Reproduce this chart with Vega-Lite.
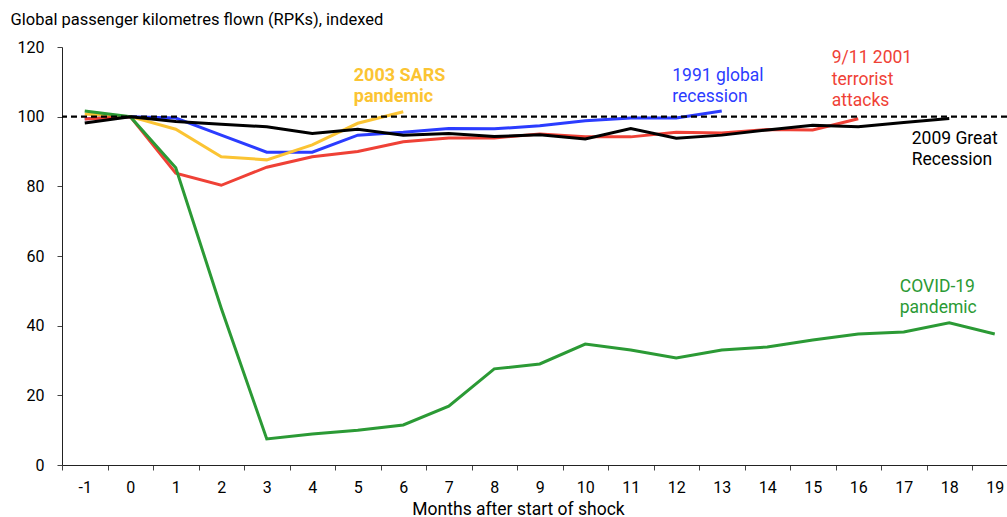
{
  "$schema": "https://vega.github.io/schema/vega-lite/v6.json",
  "width": 945,
  "height": 418,
  "autosize": {"type": "none"},
  "padding": {"left": 62, "top": 47, "right": 0, "bottom": 52},
  "background": "white",
  "config": {
    "view": {"stroke": null},
    "font": "Roboto",
    "axis": {"labelFont": "Roboto", "titleFont": "Roboto", "labelFontSize": 16, "titleFontSize": 16.5, "labelColor": "#000", "titleColor": "#000", "titleFontWeight": "normal", "domainColor": "#222", "tickColor": "#444", "grid": false}
  },
  "datasets": {
    "series": [
      {"s": "1991", "m": -1, "v": 99.4}, {"s": "1991", "m": 0, "v": 100}, {"s": "1991", "m": 1, "v": 99.6}, {"s": "1991", "m": 2, "v": 94.7}, {"s": "1991", "m": 3, "v": 89.8}, {"s": "1991", "m": 4, "v": 89.8}, {"s": "1991", "m": 5, "v": 94.7}, {"s": "1991", "m": 6, "v": 95.5}, {"s": "1991", "m": 7, "v": 96.6}, {"s": "1991", "m": 8, "v": 96.5}, {"s": "1991", "m": 9, "v": 97.4}, {"s": "1991", "m": 10, "v": 98.8}, {"s": "1991", "m": 11, "v": 99.6}, {"s": "1991", "m": 12, "v": 99.6}, {"s": "1991", "m": 13, "v": 101.6},
      {"s": "2003", "m": -1, "v": 100.8}, {"s": "2003", "m": 0, "v": 100}, {"s": "2003", "m": 1, "v": 96.4}, {"s": "2003", "m": 2, "v": 88.5}, {"s": "2003", "m": 3, "v": 87.6}, {"s": "2003", "m": 4, "v": 91.9}, {"s": "2003", "m": 5, "v": 98.1}, {"s": "2003", "m": 6, "v": 101.4},
      {"s": "2001", "m": -1, "v": 99.3}, {"s": "2001", "m": 0, "v": 100}, {"s": "2001", "m": 1, "v": 83.8}, {"s": "2001", "m": 2, "v": 80.3}, {"s": "2001", "m": 3, "v": 85.5}, {"s": "2001", "m": 4, "v": 88.5}, {"s": "2001", "m": 5, "v": 90}, {"s": "2001", "m": 6, "v": 92.8}, {"s": "2001", "m": 7, "v": 93.9}, {"s": "2001", "m": 8, "v": 93.9}, {"s": "2001", "m": 9, "v": 95}, {"s": "2001", "m": 10, "v": 94.2}, {"s": "2001", "m": 11, "v": 94.2}, {"s": "2001", "m": 12, "v": 95.5}, {"s": "2001", "m": 13, "v": 95.3}, {"s": "2001", "m": 14, "v": 96.3}, {"s": "2001", "m": 15, "v": 96.2}, {"s": "2001", "m": 16, "v": 99.4},
      {"s": "2020", "m": -1, "v": 101.6}, {"s": "2020", "m": 0, "v": 100}, {"s": "2020", "m": 1, "v": 85.3}, {"s": "2020", "m": 2, "v": 45}, {"s": "2020", "m": 3, "v": 7.5}, {"s": "2020", "m": 4, "v": 8.9}, {"s": "2020", "m": 5, "v": 10}, {"s": "2020", "m": 6, "v": 11.5}, {"s": "2020", "m": 7, "v": 16.9}, {"s": "2020", "m": 8, "v": 27.6}, {"s": "2020", "m": 9, "v": 29}, {"s": "2020", "m": 10, "v": 34.7}, {"s": "2020", "m": 11, "v": 33}, {"s": "2020", "m": 12, "v": 30.7}, {"s": "2020", "m": 13, "v": 33}, {"s": "2020", "m": 14, "v": 33.9}, {"s": "2020", "m": 15, "v": 35.9}, {"s": "2020", "m": 16, "v": 37.6}, {"s": "2020", "m": 17, "v": 38.2}, {"s": "2020", "m": 18, "v": 40.8}, {"s": "2020", "m": 19, "v": 37.6},
      {"s": "2009", "m": -1, "v": 98.2}, {"s": "2009", "m": 0, "v": 100}, {"s": "2009", "m": 1, "v": 98.6}, {"s": "2009", "m": 2, "v": 97.8}, {"s": "2009", "m": 3, "v": 97.1}, {"s": "2009", "m": 4, "v": 95.2}, {"s": "2009", "m": 5, "v": 96.4}, {"s": "2009", "m": 6, "v": 94.7}, {"s": "2009", "m": 7, "v": 95.2}, {"s": "2009", "m": 8, "v": 94.3}, {"s": "2009", "m": 9, "v": 94.8}, {"s": "2009", "m": 10, "v": 93.6}, {"s": "2009", "m": 11, "v": 96.6}, {"s": "2009", "m": 12, "v": 93.8}, {"s": "2009", "m": 13, "v": 94.7}, {"s": "2009", "m": 14, "v": 96.2}, {"s": "2009", "m": 15, "v": 97.5}, {"s": "2009", "m": 16, "v": 97.1}, {"s": "2009", "m": 17, "v": 98.3}, {"s": "2009", "m": 18, "v": 99.5}
    ]
  },
  "encoding": {
    "x": {
      "field": "m", "type": "ordinal", "bandPosition": 0.5,
      "scale": {"type": "band", "domain": [-1, 0, 1, 2, 3, 4, 5, 6, 7, 8, 9, 10, 11, 12, 13, 14, 15, 16, 17, 18, 19], "range": [0, 955.5], "paddingInner": 0, "paddingOuter": 0},
      "axis": {"title": "Months after start of shock", "labelAngle": 0, "tickBand": "extent", "tickSize": 5, "labelPadding": 9, "titleFontSize": 17.5, "titleX": 456, "titleY": 44, "titleAnchor": null, "titleAlign": "center", "titleBaseline": "middle"}
    },
    "y": {
      "field": "v", "type": "quantitative",
      "scale": {"domain": [0, 120], "nice": false},
      "axis": {"values": [0, 20, 40, 60, 80, 100, 120], "tickSize": 5, "labelPadding": 13, "title": "Global passenger kilometres flown (RPKs), indexed", "titleAngle": 0, "titleAlign": "left", "titleBaseline": "alphabetic", "titleX": -52, "titleY": -23, "titleAnchor": null}
    },
    "color": {
      "field": "s", "type": "nominal", "legend": null,
      "scale": {"domain": ["1991", "2003", "2001", "2020", "2009"], "range": ["#2b3cff", "#fbc433", "#ef4136", "#2b9a35", "#000000"]}
    }
  },
  "layer": [
    {"data": {"name": "series"}, "mark": {"type": "line", "strokeWidth": 3, "strokeJoin": "miter"}},
    {"data": {"values": [{"s": "1991", "m": 12, "v": 114.3, "t": ["1991 global", "recession"]}]}, "mark": {"type": "text", "align": "left", "baseline": "top", "fontSize": 17.5, "lineHeight": 21.5, "font": "Roboto", "dx": -4}, "encoding": {"text": {"field": "t"}}},
    {"data": {"values": [{"s": "2001", "m": 15, "v": 119.4, "t": ["9/11 2001", "terrorist", "attacks"]}]}, "mark": {"type": "text", "align": "left", "baseline": "top", "fontSize": 17.5, "lineHeight": 21.5, "font": "Roboto", "dx": 19}, "encoding": {"text": {"field": "t"}}},
    {"data": {"values": [{"s": "2009", "m": 17, "v": 96.2, "t": ["2009 Great", "Recession"]}]}, "mark": {"type": "text", "align": "left", "baseline": "top", "fontSize": 17.5, "lineHeight": 21.5, "font": "Roboto", "dx": 8}, "encoding": {"text": {"field": "t"}}},
    {"data": {"values": [{"s": "2020", "m": 17, "v": 53.7, "t": ["COVID-19", "pandemic"]}]}, "mark": {"type": "text", "align": "left", "baseline": "top", "fontSize": 17.5, "lineHeight": 21.5, "font": "Roboto", "dx": -4}, "encoding": {"text": {"field": "t"}}},
    {"data": {"values": [{"s": "2003", "m": 5, "v": 114.3, "t": ["2003 SARS", "pandemic"]}]}, "mark": {"type": "text", "align": "left", "baseline": "top", "fontSize": 18, "lineHeight": 21.5, "font": "Roboto", "fontWeight": "bold", "dx": -4}, "encoding": {"text": {"field": "t"}}},
    {"data": {"values": [{"v": 100}]}, "mark": {"type": "rule", "strokeDash": [6, 4], "strokeWidth": 2.2, "color": "#000"}, "encoding": {"y": {"field": "v", "type": "quantitative"}, "x": null, "color": null}}
  ]
}
